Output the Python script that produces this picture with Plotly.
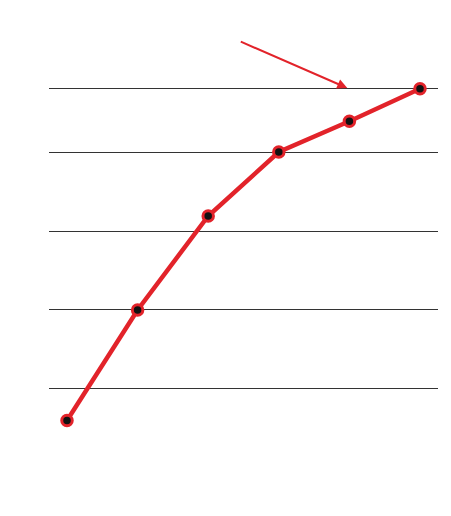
import plotly.graph_objects as go

# values (no labels shown in the reference)
x_vals = [0, 1, 2, 3, 4, 5]
y_vals = [-4, 10, 21.9, 30, 33.9, 38]
grid_vals = [0, 10, 20, 30, 38]

RED = '#e2232a'

fig = go.Figure()
fig.add_trace(go.Scatter(
    x=x_vals, y=y_vals, mode='lines+markers',
    line=dict(color=RED, width=4.5),
    marker=dict(color='#111111', size=10.5, line=dict(color=RED, width=3)),
    showlegend=False, hoverinfo='skip'))

fig.add_annotation(x=3.97, y=38.1, text='', showarrow=True,
                   axref='pixel', ayref='pixel', ax=-108, ay=-47,
                   arrowhead=2, arrowsize=1, arrowwidth=2, arrowcolor=RED)

# page sits ~7px down/right in the window, so margins are shifted to compensate
fig.update_layout(
    width=451, height=516,
    margin=dict(l=41, r=21, t=23, b=43),
    paper_bgcolor='white', plot_bgcolor='white',
    xaxis=dict(range=[-0.255, 5.255], showgrid=False, zeroline=False,
               showticklabels=False, showline=False),
    yaxis=dict(range=[-11.65, 45.32], tickvals=grid_vals, showgrid=True,
               gridcolor='#333333', gridwidth=1, zeroline=False,
               showticklabels=False, showline=False),
)

fig.write_html("out.html")
